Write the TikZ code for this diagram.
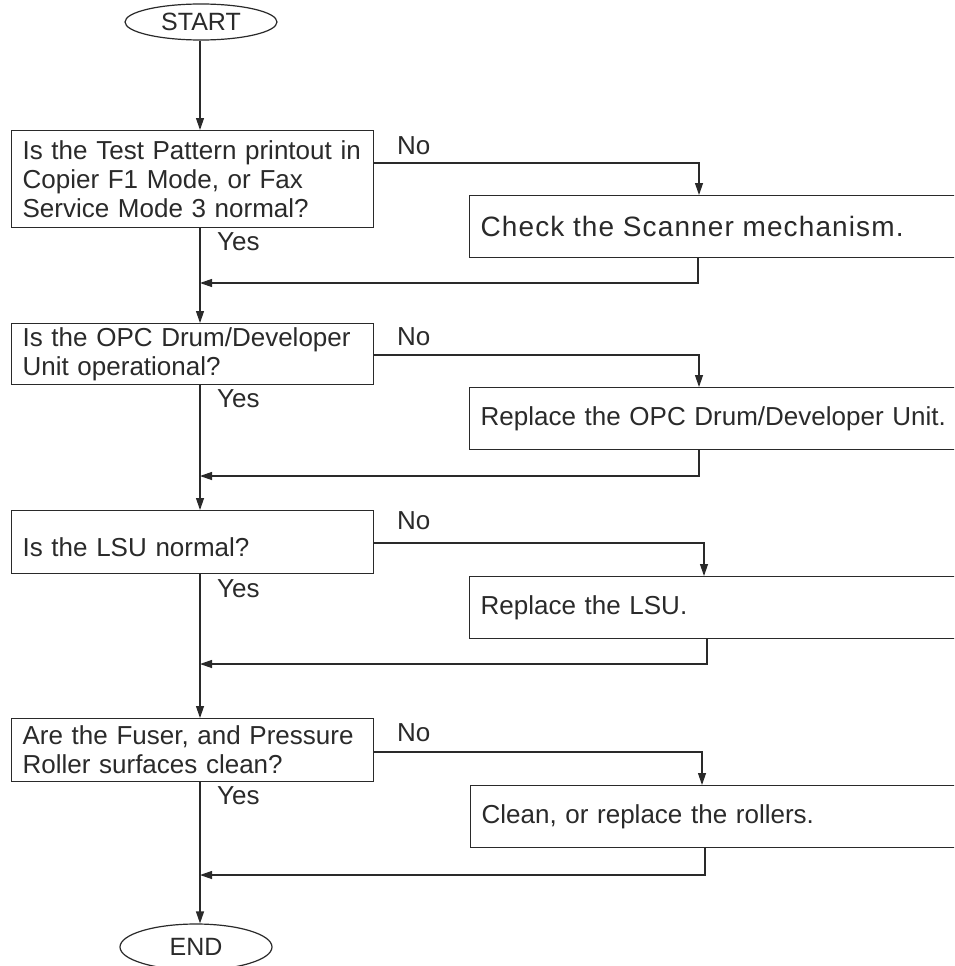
\documentclass[tikz,border=0pt]{standalone}
\usepackage{fontspec}
\setmainfont{Liberation Sans}
\usetikzlibrary{arrows.meta,shapes.geometric,calc}
\definecolor{ink}{HTML}{2A2A2A}
\newcommand\fs{\fontsize{26}{29}\selectfont}
\tikzset{
  qbox/.style={draw=ink, line width=1.2pt, anchor=north west, inner xsep=11pt, inner ysep=0pt,
    align=left, text=ink, font=\fs, minimum width=362pt, text width=340pt, minimum height=#1},
  abox/.style={draw=ink, line width=1.2pt, anchor=north west, inner xsep=11pt, inner ysep=0pt,
    align=left, text=ink, font=\fs, minimum width=540pt, minimum height=62pt, text width=518pt},
  term/.style={ellipse, draw=ink, line width=1.2pt, text=ink, font=\fontsize{25}{29}\selectfont, inner sep=0pt,
    minimum width=152pt, minimum height=#1},
  flow/.style={draw=ink, line width=1.2pt},
  arr/.style={flow, -{Triangle[length=12pt,width=8pt]}},
  lbl/.style={anchor=base west, text=ink, font=\fs, inner sep=0pt}
}
\begin{document}
\begin{tikzpicture}[x=1pt,y=-1pt]
\useasboundingbox (0,0) rectangle (954,966);
\clip (0,0) rectangle (954,966);
\fill[white] (0,0) rectangle (954,966);

% terminals
\node[term=36pt] (start) at (201,22) {START};
\node[term=46pt] (end) at (196,947) {END};

% questions
\node[qbox=97pt] (q1) at (11,130) {Is the Test Pattern printout in\\Copier F1 Mode, or Fax\\Service Mode 3 normal?};
\node[qbox=61pt] (q2) at (11,323) {Is the OPC Drum/Developer\\Unit operational?};
\node[qbox=63pt] (q3) at (11,510) {\rule{0pt}{30pt}Is the LSU normal?};
\node[qbox=63pt] (q4) at (11,718) {Are the Fuser, and Pressure\\Roller surfaces clean?};

% actions
\node[abox] (a1) at (469,195) {\fontsize{28}{30}\selectfont\addfontfeature{LetterSpace=4}Check the Scanner mechanism.};
\node[abox] (a2) at (469,387) {Replace the OPC Drum/Developer Unit.};
\node[abox] (a3) at (469,576) {Replace the LSU.};
\node[abox] (a4) at (470,785) {Clean, or replace the rollers.};

% labels
\node[lbl] (n1) at (397,154) {No};
\node[lbl] (n2) at (397,345) {No};
\node[lbl] (n3) at (397,529) {No};
\node[lbl] (n4) at (397,741) {No};
\node[lbl] (y1) at (217,250) {Yes};
\node[lbl] (y2) at (217,407) {Yes};
\node[lbl] (y3) at (217,597) {Yes};
\node[lbl] (y4) at (217,804) {Yes};

% junction points on the main line
\coordinate (m) at (200,0);
\coordinate (j1) at (200,283);
\coordinate (j2) at (200,476);
\coordinate (j3) at (200,664);
\coordinate (j4) at (200,875);

% main line
\draw[arr] (start.south -| m) -- (m |- q1.north);
\draw[flow] (m |- q1.south) -- (j1);
\draw[arr] (j1) -- (m |- q2.north);
\draw[flow] (m |- q2.south) -- (j2);
\draw[arr] (j2) -- (m |- q3.north);
\draw[flow] (m |- q3.south) -- (j3);
\draw[arr] (j3) -- (m |- q4.north);
\draw[flow] (m |- q4.south) -- (j4);
\draw[arr] (j4) -- (m |- end.north);

% No branches
\draw[arr] ([yshift=-33pt]q1.north east) -| ([xshift=230pt]a1.north west);
\draw[arr] ([yshift=-32pt]q2.north east) -| ([xshift=230pt]a2.north west);
\draw[arr] ([yshift=-33pt]q3.north east) -| ([xshift=235pt]a3.north west);
\draw[arr] ([yshift=-34pt]q4.north east) -| ([xshift=232pt]a4.north west);

% returns
\draw[arr] ([xshift=229pt]a1.south west) |- (j1);
\draw[arr] ([xshift=230pt]a2.south west) |- (j2);
\draw[arr] ([xshift=238pt]a3.south west) |- (j3);
\draw[arr] ([xshift=235pt]a4.south west) |- (j4);
\end{tikzpicture}
\end{document}
